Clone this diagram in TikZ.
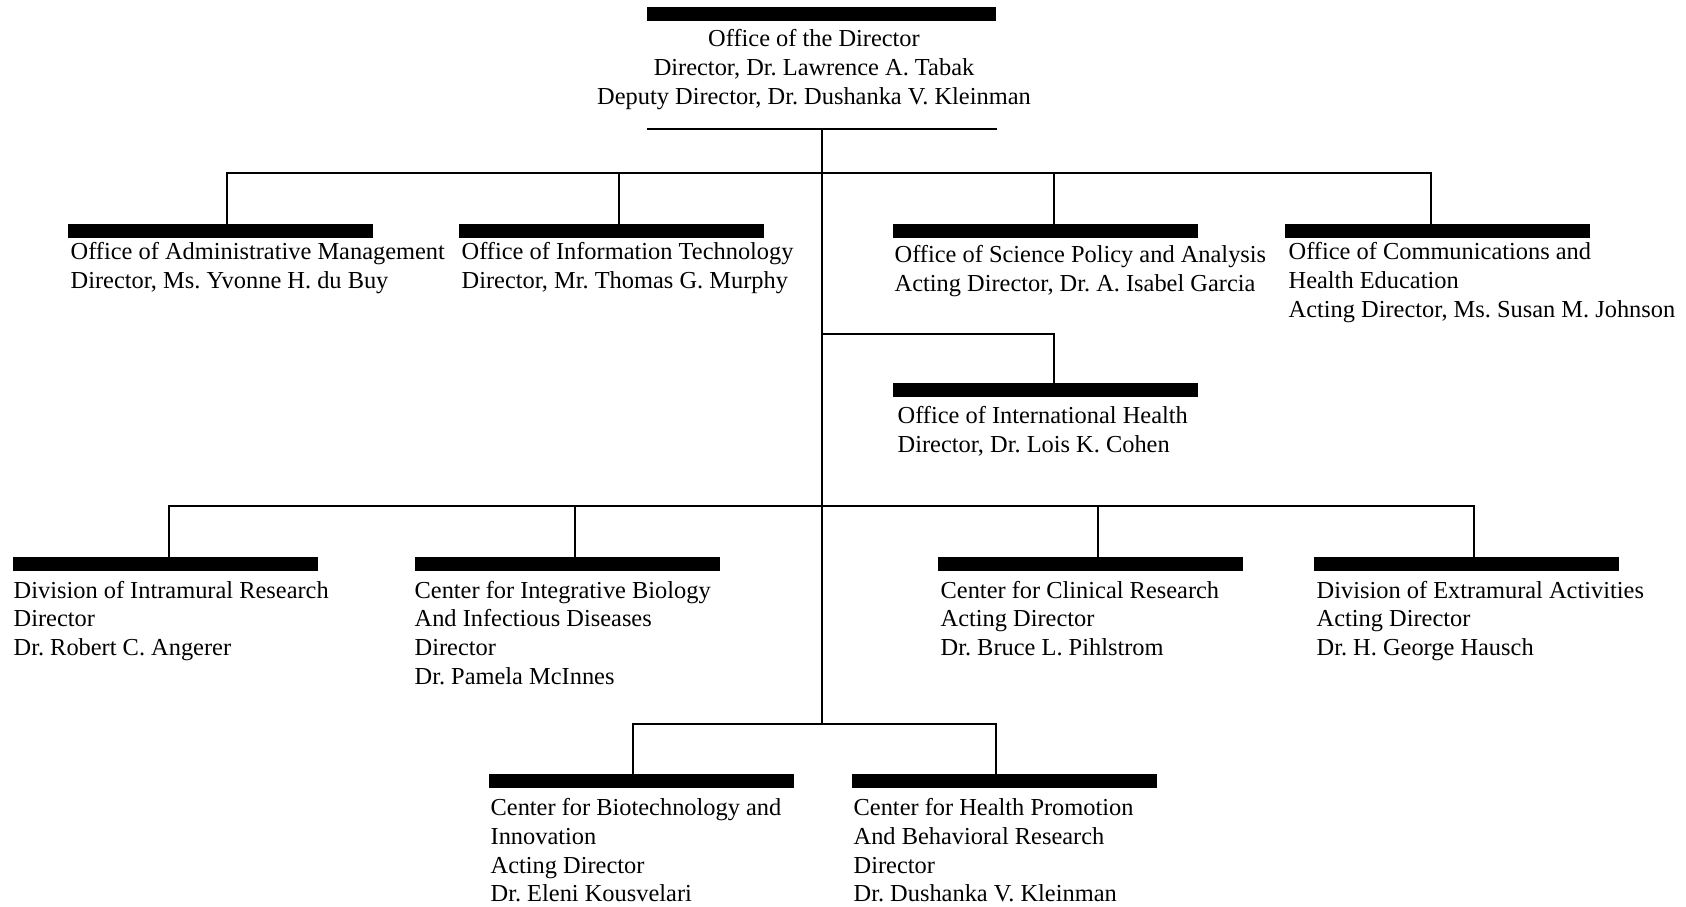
\documentclass[tikz,border=0pt]{standalone}
\usepackage{fontspec}
\setmainfont{Liberation Serif}
\frenchspacing
\tikzset{
bar/.style = {rectangle, fill=black, anchor=north west, minimum width=#1,
              minimum height=7pt, inner sep=0pt, outer sep=0pt},
bar/.default = 152.5pt, % width of an office bar
unit/.style = {anchor=north west, align=left, inner sep=0pt,
               font=\fontsize{12.2}{14.3}\selectfont}
}

\begin{document}
\begin{tikzpicture}[x=0.5pt, y=-0.5pt, line width=0.65pt]
\useasboundingbox (0,0) rectangle (1686,906);

\node[bar=174.5pt] (topbar) at (647,7) {};
\node[unit, anchor=north, align=center] (toptxt) at (814,29) {Office of the Director\\Director, Dr. Lawrence A. Tabak\\Deputy Director, Dr. Dushanka V. Kleinman};

\node[bar] (admbar) at (68,224) {};
\node[bar] (itbar)  at (459,224) {};
\node[bar] (scibar) at (893,224) {};
\node[bar] (combar) at (1285,224) {};
\node[bar] (intlbar) at (893,383) {};
\node[bar] (intrabar) at (13,557) {};
\node[bar] (integbar) at (415,557) {};
\node[bar] (clinbar)  at (938,557) {};
\node[bar] (extrabar) at (1314,557) {};
\node[bar] (biobar)    at (489,774) {};
\node[bar] (healthbar) at (852,774) {};

\node[unit] (admtxt) at ([shift={(2,4)}]admbar.south west) {Office of Administrative Management\\Director, Ms. Yvonne H. du Buy};
\node[unit] (ittxt) at ([shift={(2,4)}]itbar.south west) {Office of Information Technology\\Director, Mr. Thomas G. Murphy};
\node[unit] (scitxt) at ([shift={(1,7)}]scibar.south west) {Office of Science Policy and Analysis\\Acting Director, Dr. A. Isabel Garcia};
\node[unit] (comtxt) at ([shift={(3,4)}]combar.south west) {Office of Communications and\\Health Education\\Acting Director, Ms. Susan M. Johnson};
\node[unit] (intltxt) at ([shift={(4,9)}]intlbar.south west) {Office of International Health\\Director, Dr. Lois K. Cohen};
\node[unit] (intratxt) at ([shift={(0,9.5)}]intrabar.south west) {Division of Intramural Research\\Director\\Dr. Robert C. Angerer};
\node[unit] (integtxt) at ([shift={(-1,9.5)}]integbar.south west) {Center for Integrative Biology\\And Infectious Diseases\\Director\\Dr. Pamela McInnes};
\node[unit] (clintxt) at ([shift={(2,9.5)}]clinbar.south west) {Center for Clinical Research\\Acting Director\\Dr. Bruce L. Pihlstrom};
\node[unit] (extratxt) at ([shift={(2,9.5)}]extrabar.south west) {Division of Extramural Activities\\Acting Director\\Dr. H. George Hausch};
\node[unit] (biotxt) at ([shift={(1,10)}]biobar.south west) {Center for Biotechnology and\\Innovation\\Acting Director\\Dr. Eleni Kousvelari};
\node[unit] (healthtxt) at ([shift={(1,10)}]healthbar.south west) {Center for Health Promotion\\And Behavioral Research\\Director\\Dr. Dushanka V. Kleinman};

\coordinate (ruleL) at (647,129);
\coordinate (ruleR) at (997,129);
\coordinate (trunk) at (822,129);
\coordinate (hubA) at (822,173);
\coordinate (hubB) at (822,334);
\coordinate (hubC) at (822,506);
\coordinate (hubD) at (822,724);

\draw (ruleL) -- (ruleR);
\draw (trunk) -- (hubD);
\draw (hubA) -| ([shift={(6.5,0)}]admbar.north);
\draw (hubA) -| ([shift={(7.5,0)}]itbar.north);
\draw (hubA) -| ([shift={(8.5,0)}]scibar.north);
\draw (hubA) -| ([shift={(-6.5,0)}]combar.north);
\draw (hubB) -| ([shift={(8.5,0)}]intlbar.north);
\draw (hubC) -| ([shift={(3.5,0)}]intrabar.north);
\draw (hubC) -| ([shift={(7.5,0)}]integbar.north);
\draw (hubC) -| ([shift={(7.5,0)}]clinbar.north);
\draw (hubC) -| ([shift={(7.5,0)}]extrabar.north);
\draw (hubD) -| ([shift={(-8.5,0)}]biobar.north);
\draw (hubD) -| ([shift={(-8.5,0)}]healthbar.north);
\end{tikzpicture}
\end{document}
